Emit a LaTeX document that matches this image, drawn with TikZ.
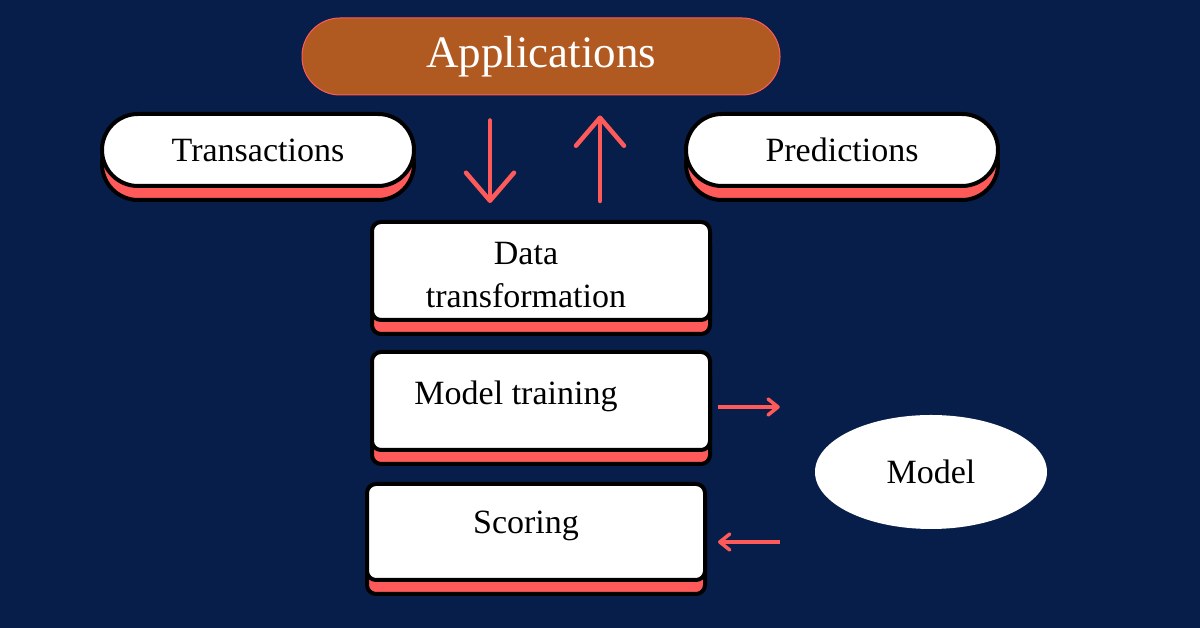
\documentclass[tikz,border=0pt]{standalone}
\usepackage{fontspec}
\setmainfont{Liberation Serif}
\usetikzlibrary{arrows.meta,shadows,shapes.geometric}
\definecolor{navybg}{HTML}{081E4A}
\definecolor{rust}{HTML}{B05A22}
\definecolor{coral}{HTML}{FF5A5A}

\begin{document}
\begin{tikzpicture}[x=1pt, y=1pt,
    apps/.style={draw=coral, line width=1pt, fill=rust, rounded corners=38pt,
      minimum width=478pt, minimum height=77pt, text=white,
      font=\fontsize{45}{50}\selectfont},
    pill/.style={draw=black, line width=4pt, fill=white, rounded corners=36pt,
      minimum width=312pt, minimum height=72pt, font=\fontsize{34}{40}\selectfont,
      general shadow={shadow yshift=-14pt, opacity=1, fill=coral, draw=black, line width=4pt}},
    stage/.style={draw=black, line width=4pt, fill=white, rounded corners=9pt,
      minimum width=338pt, minimum height=98pt,
      general shadow={shadow yshift=-14pt, opacity=1, fill=coral, draw=black, line width=4pt}},
    stext/.style={font=\fontsize{34}{43}\selectfont, align=center},
    blob/.style={ellipse, fill=white, inner sep=0pt, minimum width=232pt,
      minimum height=114pt, font=\fontsize{34}{40}\selectfont},
    flow/.style={-{Straight Barb[round, length=28pt, width=48pt]}, line width=4.5pt,
      coral, line cap=round},
    flowsm/.style={-{Straight Barb[round, length=10pt, width=16pt]}, line width=3.5pt,
      coral},
  ]
  \fill[navybg] (0,0) rectangle (1200,628);
  \node[apps] (apps) at (541,571.5) {Applications};
  \node[pill] (trans) at (258,478) {Transactions};
  \node[pill] (pred) at (842,478) {Predictions};
  \node[stage] (dt) at (541,357) {};
  \node[stage] (train) at (541,227) {};
  \node[stage, minimum height=96pt] (score) at (536,96) {};
  \node[blob] (model) at (931,156) {Model};
  \node[stext] (dtlabel) at ([xshift=-15pt, yshift=-4pt]dt.center) {Data\\transformation};
  \node[stext] (trainlabel) at ([xshift=-25pt, yshift=5pt]train.center) {Model training};
  \node[stext] (scorelabel) at ([xshift=-10pt, yshift=6pt]score.center) {Scoring};
  \draw[flow, shorten <=25pt, shorten >=17pt]
    ([xshift=-51pt]apps.south) -- ([xshift=-51pt]apps.south |- dt.north);
  \draw[flow, shorten <=19pt, shorten >=20pt]
    ([xshift=59pt]apps.south |- dt.north) -- ([xshift=59pt]apps.south);
  \draw[flowsm, shorten <=6pt, shorten >=35pt]
    ([yshift=-6pt]train.east) -- ([yshift=-6pt]train.east -| model.west);
  \draw[flowsm, shorten <=35pt, shorten >=11pt]
    ([yshift=-10pt]score.east -| model.west) -- ([yshift=-10pt]score.east);
\end{tikzpicture}
\end{document}
